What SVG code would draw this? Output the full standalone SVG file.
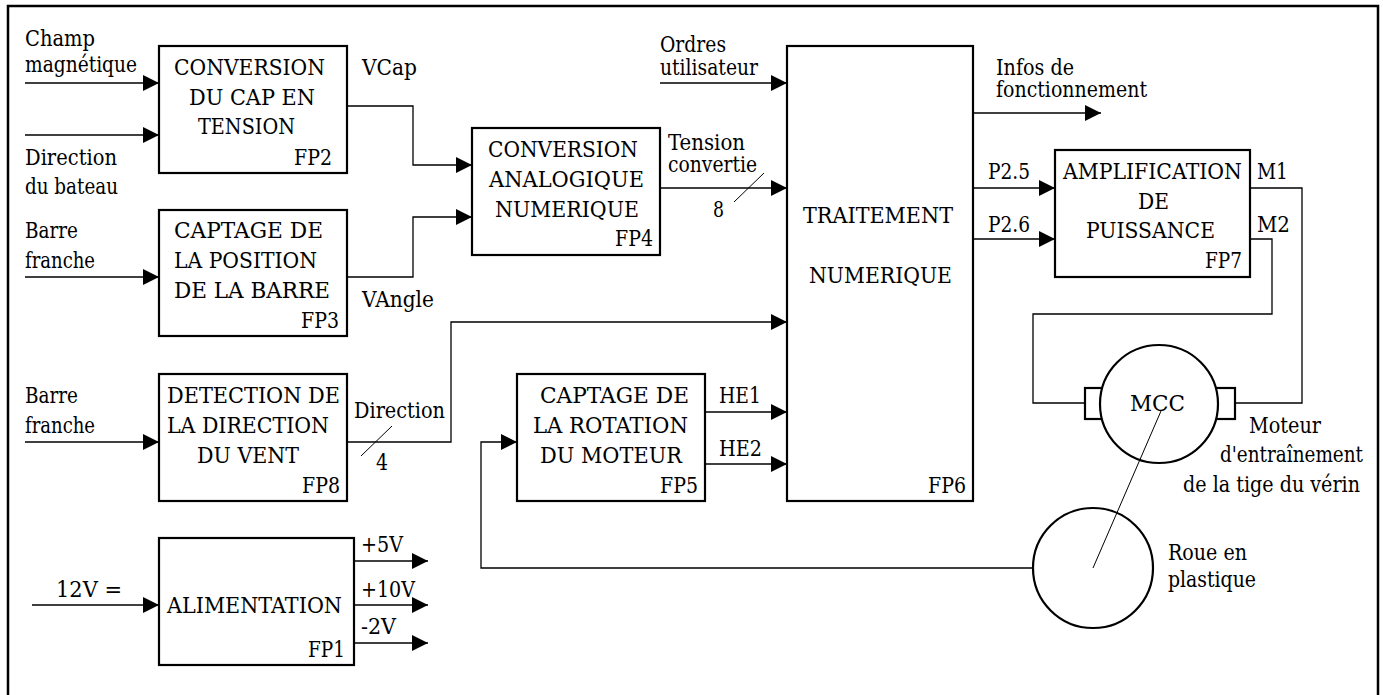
<svg xmlns="http://www.w3.org/2000/svg" width="1383" height="695" viewBox="0 0 1383 695">
<style>
.box{fill:#fff;stroke:#000;stroke-width:2.2}
.c{fill:none;stroke:#000;stroke-width:1.3}
.t{fill:none;stroke:#000;stroke-width:1}
</style>
<defs>
<marker id="ah" markerUnits="userSpaceOnUse" markerWidth="16" markerHeight="16" refX="16" refY="8" orient="auto">
<path d="M0,0 L16,8 L0,16 z" fill="#000"/>
</marker>
</defs>
<rect width="1383" height="695" fill="#fff"/>
<path d="M8,695 V6 H1378 V695" fill="none" stroke="#000" stroke-width="2.5"/>
<g id="connectors">
<path class="c" d="M25,83 H159" marker-end="url(#ah)"/>
<path class="c" d="M25,135 H159" marker-end="url(#ah)"/>
<path class="c" d="M25,277 H159" marker-end="url(#ah)"/>
<path class="c" d="M25,442 H159" marker-end="url(#ah)"/>
<path class="c" d="M32,605 H159" marker-end="url(#ah)"/>
<path class="c" d="M347,106 H413 V165 H472" marker-end="url(#ah)"/>
<path class="c" d="M347,277 H413 V217 H472" marker-end="url(#ah)"/>
<path class="c" d="M660,83 H787" marker-end="url(#ah)"/>
<path class="c" d="M660,188 H787" marker-end="url(#ah)"/>
<path class="t" d="M734,202 L764,173"/>
<path class="c" d="M347,442 H451 V322 H787" marker-end="url(#ah)"/>
<path class="t" d="M361,456 L392,426"/>
<path class="c" d="M705,412 H787" marker-end="url(#ah)"/>
<path class="c" d="M705,464 H787" marker-end="url(#ah)"/>
<path class="c" d="M973,113 H1101" marker-end="url(#ah)"/>
<path class="c" d="M973,188 H1055" marker-end="url(#ah)"/>
<path class="c" d="M973,239 H1055" marker-end="url(#ah)"/>
<path class="c" d="M1250,188 H1302 V403 H1235"/>
<path class="c" d="M1250,239 H1272 V314 H1033 V403 H1085"/>
<path class="c" d="M1033,568 H481 V442 H517" marker-end="url(#ah)"/>
<path class="c" d="M354,561 H428" marker-end="url(#ah)"/>
<path class="c" d="M354,605 H428" marker-end="url(#ah)"/>
<path class="c" d="M354,643 H428" marker-end="url(#ah)"/>
</g>
<g font-family="DejaVu Serif, serif" font-size="22" fill="#000">
<g id="labels">
<text x="25" y="46" textLength="70" lengthAdjust="spacingAndGlyphs">Champ</text>
<text x="25" y="72" textLength="112" lengthAdjust="spacingAndGlyphs">magnétique</text>
<text x="25" y="165" textLength="92" lengthAdjust="spacingAndGlyphs">Direction</text>
<text x="25" y="194" textLength="93" lengthAdjust="spacingAndGlyphs">du bateau</text>
<text x="25" y="238" textLength="53" lengthAdjust="spacingAndGlyphs">Barre</text>
<text x="25" y="268" textLength="70" lengthAdjust="spacingAndGlyphs">franche</text>
<text x="25" y="403" textLength="53" lengthAdjust="spacingAndGlyphs">Barre</text>
<text x="25" y="433" textLength="70" lengthAdjust="spacingAndGlyphs">franche</text>
<text x="56" y="597" textLength="66" lengthAdjust="spacingAndGlyphs">12V =</text>
<text x="362" y="75" textLength="55" lengthAdjust="spacingAndGlyphs">VCap</text>
<text x="362" y="307" textLength="72" lengthAdjust="spacingAndGlyphs">VAngle</text>
<text x="668" y="150" textLength="77" lengthAdjust="spacingAndGlyphs">Tension</text>
<text x="668" y="172" textLength="89" lengthAdjust="spacingAndGlyphs">convertie</text>
<text x="713" y="217" textLength="11" lengthAdjust="spacingAndGlyphs">8</text>
<text x="660" y="52" textLength="66" lengthAdjust="spacingAndGlyphs">Ordres</text>
<text x="660" y="75" textLength="98" lengthAdjust="spacingAndGlyphs">utilisateur</text>
<text x="354" y="418" textLength="91" lengthAdjust="spacingAndGlyphs">Direction</text>
<text x="376" y="470" textLength="12" lengthAdjust="spacingAndGlyphs">4</text>
<text x="719" y="403" textLength="42" lengthAdjust="spacingAndGlyphs">HE1</text>
<text x="719" y="456" textLength="43" lengthAdjust="spacingAndGlyphs">HE2</text>
<text x="996" y="75" textLength="78" lengthAdjust="spacingAndGlyphs">Infos de</text>
<text x="996" y="97" textLength="151" lengthAdjust="spacingAndGlyphs">fonctionnement</text>
<text x="988" y="179" textLength="42" lengthAdjust="spacingAndGlyphs">P2.5</text>
<text x="988" y="232" textLength="42" lengthAdjust="spacingAndGlyphs">P2.6</text>
<text x="1257" y="179" textLength="31" lengthAdjust="spacingAndGlyphs">M1</text>
<text x="1257" y="232" textLength="33" lengthAdjust="spacingAndGlyphs">M2</text>
<text x="361" y="552" textLength="42" lengthAdjust="spacingAndGlyphs">+5V</text>
<text x="361" y="597" textLength="54" lengthAdjust="spacingAndGlyphs">+10V</text>
<text x="361" y="634" textLength="35" lengthAdjust="spacingAndGlyphs">-2V</text>
</g>

<g id="FP2">
<rect class="box" x="159" y="46" width="188" height="127"/>
<text x="174" y="75" textLength="151" lengthAdjust="spacingAndGlyphs">CONVERSION</text>
<text x="189" y="105" textLength="126" lengthAdjust="spacingAndGlyphs">DU CAP EN</text>
<text x="198" y="134" textLength="97" lengthAdjust="spacingAndGlyphs">TENSION</text>
<text x="294" y="165" textLength="38" lengthAdjust="spacingAndGlyphs">FP2</text>
</g>

<g id="FP3">
<rect class="box" x="159" y="210" width="188" height="126"/>
<text x="174" y="238" textLength="149" lengthAdjust="spacingAndGlyphs">CAPTAGE DE</text>
<text x="174" y="268" textLength="143" lengthAdjust="spacingAndGlyphs">LA POSITION</text>
<text x="174" y="298" textLength="156" lengthAdjust="spacingAndGlyphs">DE LA BARRE</text>
<text x="301" y="328" textLength="38" lengthAdjust="spacingAndGlyphs">FP3</text>
</g>

<g id="FP4">
<rect class="box" x="472" y="128" width="188" height="127"/>
<text x="488" y="157" textLength="150" lengthAdjust="spacingAndGlyphs">CONVERSION</text>
<text x="489" y="187" textLength="155" lengthAdjust="spacingAndGlyphs">ANALOGIQUE</text>
<text x="495" y="217" textLength="144" lengthAdjust="spacingAndGlyphs">NUMERIQUE</text>
<text x="615" y="246" textLength="38" lengthAdjust="spacingAndGlyphs">FP4</text>
</g>

<g id="FP6">
<rect class="box" x="787" y="46" width="186" height="455"/>
<text x="803" y="223" textLength="150" lengthAdjust="spacingAndGlyphs">TRAITEMENT</text>
<text x="809" y="283" textLength="143" lengthAdjust="spacingAndGlyphs">NUMERIQUE</text>
<text x="928" y="493" textLength="38" lengthAdjust="spacingAndGlyphs">FP6</text>
</g>

<g id="FP7">
<rect class="box" x="1055" y="150" width="195" height="127"/>
<text x="1063" y="179" textLength="179" lengthAdjust="spacingAndGlyphs">AMPLIFICATION</text>
<text x="1138" y="209" textLength="31" lengthAdjust="spacingAndGlyphs">DE</text>
<text x="1086" y="238" textLength="129" lengthAdjust="spacingAndGlyphs">PUISSANCE</text>
<text x="1205" y="268" textLength="37" lengthAdjust="spacingAndGlyphs">FP7</text>
</g>

<g id="FP8">
<rect class="box" x="159" y="374" width="188" height="127"/>
<text x="167" y="403" textLength="173" lengthAdjust="spacingAndGlyphs">DETECTION DE</text>
<text x="167" y="433" textLength="162" lengthAdjust="spacingAndGlyphs">LA DIRECTION</text>
<text x="197" y="463" textLength="102" lengthAdjust="spacingAndGlyphs">DU VENT</text>
<text x="302" y="493" textLength="38" lengthAdjust="spacingAndGlyphs">FP8</text>
</g>

<g id="FP5">
<rect class="box" x="517" y="374" width="188" height="127"/>
<text x="540" y="403" textLength="149" lengthAdjust="spacingAndGlyphs">CAPTAGE DE</text>
<text x="533" y="433" textLength="155" lengthAdjust="spacingAndGlyphs">LA ROTATION</text>
<text x="540" y="463" textLength="142" lengthAdjust="spacingAndGlyphs">DU MOTEUR</text>
<text x="660" y="493" textLength="38" lengthAdjust="spacingAndGlyphs">FP5</text>
</g>

<g id="FP1">
<rect class="box" x="159" y="538" width="195" height="127"/>
<text x="167" y="613" textLength="175" lengthAdjust="spacingAndGlyphs">ALIMENTATION</text>
<text x="308" y="657" textLength="37" lengthAdjust="spacingAndGlyphs">FP1</text>
</g>

<g id="MCC">
<rect class="box" x="1085" y="388" width="20" height="31"/>
<rect class="box" x="1214" y="388" width="21" height="31"/>
<circle class="box" cx="1159" cy="404" r="59"/>
<text x="1130" y="411" textLength="55" lengthAdjust="spacingAndGlyphs">MCC</text>
<text x="1249" y="433" textLength="72" lengthAdjust="spacingAndGlyphs">Moteur</text>
<text x="1220" y="462" textLength="143" lengthAdjust="spacingAndGlyphs">d'entraînement</text>
<text x="1183" y="492" textLength="177" lengthAdjust="spacingAndGlyphs">de la tige du vérin</text>
</g>

<g id="roue">
<circle class="box" cx="1093" cy="568" r="60"/>
<text x="1168" y="560" textLength="79" lengthAdjust="spacingAndGlyphs">Roue en</text>
<text x="1168" y="587" textLength="88" lengthAdjust="spacingAndGlyphs">plastique</text>
</g>
</g>
<path class="t" d="M1161,411 L1093,568"/>
</svg>
